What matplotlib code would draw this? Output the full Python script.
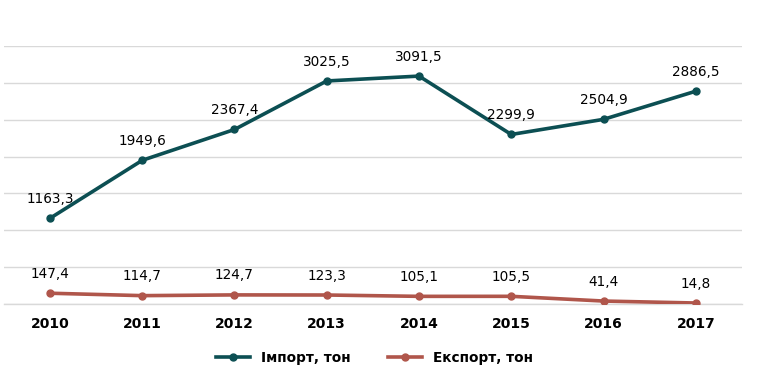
import numpy as np
import matplotlib.pyplot as plt

years = ['2010', '2011', '2012', '2013', '2014', '2015', '2016', '2017']
imports = [1163.3, 1949.6, 2367.4, 3025.5, 3091.5, 2299.9, 2504.9, 2886.5]
exports = [147.4, 114.7, 124.7, 123.3, 105.1, 105.5, 41.4, 14.8]

c_imp = '#0c4f53'
c_exp = '#b0564b'

fig = plt.figure(figsize=(7.72, 3.83), dpi=100)
ax = fig.add_axes([0.005, 0.206, 0.956, 0.674])

x = np.arange(len(years))
ax.plot(x, imports, color=c_imp, lw=2.6, marker='o', ms=5, label='Імпорт, тон', zorder=3)
ax.plot(x, exports, color=c_exp, lw=2.6, marker='o', ms=5, label='Експорт, тон', zorder=3)

def fmt(v):
    return f'{v:.1f}'.replace('.', ',')

for xi, v in zip(x, imports):
    ax.annotate(fmt(v), (xi, v), xytext=(0, 14), textcoords='offset points',
                ha='center', va='center', fontsize=9.8)
for xi, v in zip(x, exports):
    ax.annotate(fmt(v), (xi, v), xytext=(0, 14), textcoords='offset points',
                ha='center', va='center', fontsize=9.8)

ax.set_xlim(-0.5, len(years) - 0.5)
ax.set_ylim(0, 3500)
ax.set_yticks(np.arange(0, 3501, 500))
ax.yaxis.grid(True, color='#d9d9d9', lw=1)
# bottom gridline gets clipped otherwise
ax.axhline(0, color='#d9d9d9', lw=1, clip_on=False, zorder=0)
ax.set_axisbelow(True)
ax.set_xticks(x)
ax.set_xticklabels(years, fontsize=10, fontweight='bold')
ax.tick_params(axis='x', length=0, pad=9)
ax.tick_params(axis='y', length=0, labelleft=False)
for s in ax.spines.values():
    s.set_visible(False)

leg = fig.legend(loc='center', bbox_to_anchor=(0.485, 0.065), ncol=2, frameon=False,
                 prop={'weight': 'bold', 'size': 9.8}, handlelength=2.5, columnspacing=2.8)

fig.savefig('out.png', dpi=100)
